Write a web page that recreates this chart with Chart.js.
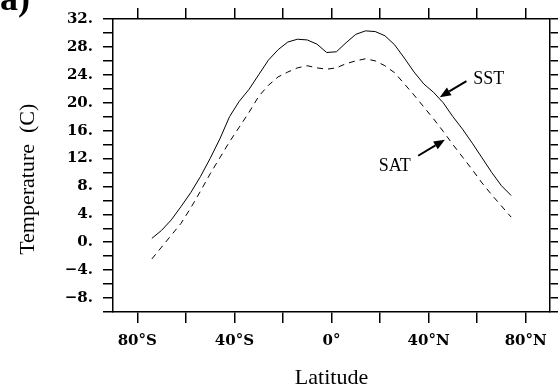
<!DOCTYPE html>
<html><head><meta charset="utf-8">
<script src="https://cdn.jsdelivr.net/npm/chart.js@4/dist/chart.umd.min.js"></script>
<style>html,body{margin:0;padding:0;background:#fff;overflow:hidden}#wrap{width:558px;height:391px}</style>
</head><body><div id="wrap"><canvas id="c" width="558" height="391"></canvas></div>
<script>
// Latitude (degrees, negative = south)
const latitudes = [-74,-70,-66,-62,-58,-54,-50,-46,-42,-38,-34,-30,-26,-22,-18,-14,-10,-6,-2,2,6,10,14,18,22,26,30,34,38,42,46,50,54,58,62,66,70,74];
// Sea surface temperature (C)
const sst = [0.55,1.7,3.2,5.1,7.1,9.4,12.0,14.8,18.0,20.2,21.9,24.0,26.1,27.6,28.7,29.1,29.0,28.4,27.2,27.3,28.6,29.8,30.3,30.2,29.6,28.3,26.4,24.4,22.7,21.5,20.0,18.0,16.2,14.2,12.1,10.0,8.1,6.7];
// Surface air temperature (C)
const sat = [-2.4,-0.7,1.0,2.7,4.9,7.3,9.8,12.1,14.4,16.5,18.6,20.9,22.5,23.7,24.4,25.0,25.3,25.0,24.8,25.0,25.6,26.0,26.3,26.0,25.3,24.3,22.7,21.1,19.4,17.7,15.9,14.0,12.2,10.4,8.5,6.8,5.2,3.6];
// Tick settings
const xTickValues = [-80,-60,-40,-20,0,20,40,60,80];
const xTicksLabelled = [-80,-40,0,40,80];
const yTickValues = [-10,-8,-6,-4,-2,0,2,4,6,8,10,12,14,16,18,20,22,24,26,28,30,32];
const yTicksLabelled = [32,28,24,20,16,12,8,4,0,-4,-8];
// Annotation labels with arrows (data coordinates)
const annotationLabels = ['SST','SAT'];
const annotationTextPos = [[64.8,23.4],[26.1,10.9]];
const annotationArrowTail = [[55.6,23.1],[35.7,12.4]];
const annotationArrowTip = [[44.6,20.8],[46.7,14.7]];

function fmtLat(v){ if(v===0) return '0°'; return v<0 ? (-v)+'°S' : v+'°N'; }
function fmtTemp(v){ return (v<0 ? '\u2212'+(-v) : String(v)) + '.'; }
const setX = s=>{ s.ticks = xTickValues.map(v=>({value:v})); };
const setY = s=>{ s.ticks = yTickValues.map(v=>({value:v})); };

const tickFont = {family:'DejaVu Serif', weight:'bold', size:15};
const lineCol = '#000';
const axisW = 1.5;

const arrowPlugin = {
  id:'arrows',
  afterDatasetsDraw(chart){
    const ctx = chart.ctx, xs = chart.scales.x, ys = chart.scales.y;
    ctx.save();
    ctx.fillStyle = '#000'; ctx.strokeStyle = '#000';
    annotationLabels.forEach((lab,i)=>{
      const tx = xs.getPixelForValue(annotationTextPos[i][0]), ty = ys.getPixelForValue(annotationTextPos[i][1]);
      ctx.font = '18px "Liberation Serif"';
      ctx.textAlign='center'; ctx.textBaseline='middle';
      ctx.fillText(lab, tx, ty);
      const x1 = xs.getPixelForValue(annotationArrowTail[i][0]), y1 = ys.getPixelForValue(annotationArrowTail[i][1]);
      const x2 = xs.getPixelForValue(annotationArrowTip[i][0]), y2 = ys.getPixelForValue(annotationArrowTip[i][1]);
      const ang = Math.atan2(y2-y1, x2-x1);
      const hl = 11, hw = 4.5;
      const bx = x2 - hl*Math.cos(ang), by = y2 - hl*Math.sin(ang);
      ctx.lineWidth = 2;
      ctx.beginPath(); ctx.moveTo(x1,y1); ctx.lineTo(bx,by); ctx.stroke();
      ctx.beginPath();
      ctx.moveTo(x2,y2);
      ctx.lineTo(bx + hw*Math.sin(ang), by - hw*Math.cos(ang));
      ctx.lineTo(bx - hw*Math.sin(ang), by + hw*Math.cos(ang));
      ctx.closePath(); ctx.fill();
    });
    // panel label
    ctx.font = 'bold 36px "Liberation Serif"';
    ctx.textAlign='left'; ctx.textBaseline='alphabetic';
    ctx.fillText('(a)', -12, 10);
    ctx.restore();
  }
};

const gridOpts = {drawOnChartArea:false, drawTicks:true, color:lineCol, lineWidth:axisW};
const borderOpts = {display:true, color:lineCol, width:axisW};

new Chart(document.getElementById('c'), {
  type:'line',
  data:{datasets:[
    {label:'SST', data:latitudes.map((x,i)=>({x, y:sst[i]})), borderColor:'#000', borderWidth:1, pointRadius:0, tension:0, fill:false},
    {label:'SAT', data:latitudes.map((x,i)=>({x, y:sat[i]})), borderColor:'#000', borderWidth:1, borderDash:[6,5], pointRadius:0, tension:0, fill:false}
  ]},
  options:{
    responsive:false, animation:false,
    layout:{padding:0},
    plugins:{legend:{display:false}, tooltip:{enabled:false}},
    scales:{
      x:{type:'linear', position:'bottom', min:-90, max:90,
        afterBuildTicks:setX,
        ticks:{autoSkip:false, maxRotation:0, padding:9, color:'#000', font:tickFont,
          callback:v=> xTicksLabelled.includes(v) ? fmtLat(v) : ''},
        grid:Object.assign({tickLength:11}, gridOpts), border:borderOpts,
        title:{display:true, text:'Latitude', color:'#000', font:{family:'Liberation Serif', size:22}, padding:{top:0,bottom:0}},
        afterFit:s=>{s.height=79;}},
      x2:{type:'linear', position:'top', min:-90, max:90,
        afterBuildTicks:setX,
        ticks:{autoSkip:false, display:false},
        grid:Object.assign({tickLength:11}, gridOpts), border:borderOpts,
        afterFit:s=>{s.height=14;}},
      y:{type:'linear', position:'left', min:-10, max:32,
        afterBuildTicks:setY,
        ticks:{autoSkip:false, padding:10, color:'#000', font:tickFont,
          callback:v=> yTicksLabelled.includes(v) ? fmtTemp(v) : ''},
        grid:Object.assign({tickLength:10}, gridOpts), border:borderOpts,
        title:{display:true, text:'Temperature  (C)     ', color:'#000', font:{family:'Liberation Serif', size:22}, padding:{top:15,bottom:0}},
        afterFit:s=>{s.width=113;}},
      y2:{type:'linear', position:'right', min:-10, max:32,
        afterBuildTicks:setY,
        ticks:{autoSkip:false, display:false},
        grid:Object.assign({tickLength:10}, gridOpts), border:borderOpts,
        afterFit:s=>{s.width=8;}}
    }
  },
  plugins:[arrowPlugin]
});
</script></body></html>
